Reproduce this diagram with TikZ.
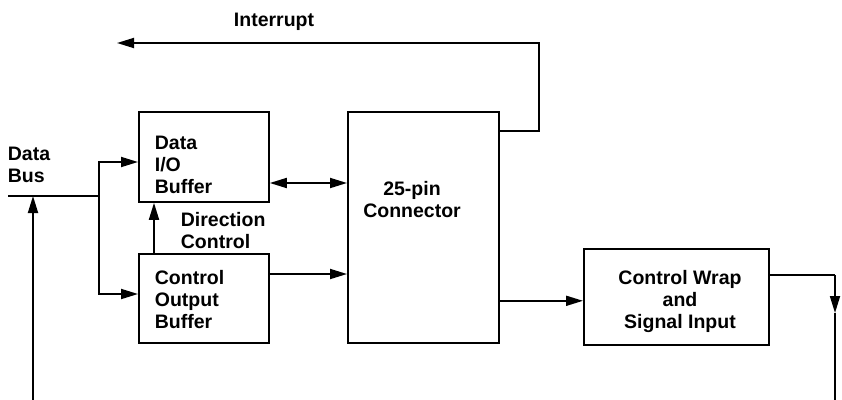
\documentclass[tikz,border=0pt]{standalone}
\usepackage{fontspec}
\setmainfont{Liberation Sans}
\usetikzlibrary{arrows.meta,calc}
\begin{document}
\begin{tikzpicture}[x=1pt,y=-1pt,
  line width=1.8pt,
  box/.style={draw, rectangle, inner sep=0pt, anchor=north west},
  txt/.style={inner sep=0pt, font=\fontsize{19.5}{22}\selectfont\bfseries},
  arr/.style={-{Triangle[length=17pt,width=10pt]}},
  arrboth/.style={{Triangle[length=17pt,width=10pt]}-{Triangle[length=17pt,width=10pt]}}
]
\useasboundingbox (0,0) rectangle (842,399);

% boxes
\node[box, minimum width=130pt, minimum height=90pt] (dio) at (138,111) {};
\node[box, minimum width=130pt, minimum height=89pt] (cob) at (138,253) {};
\node[box, minimum width=151pt, minimum height=231pt] (conn) at (347,111) {};
\node[box, minimum width=185pt, minimum height=96pt] (cwr) at (583,248) {};

% texts
\node[txt, anchor=north west, align=left] (diot) at (154,135) {Data\\I/O\\Buffer};
\node[txt, anchor=north west, align=left] (cobt) at (154,269) {Control\\Output\\Buffer};
\node[txt, anchor=north, align=center] (connt) at (412,180) {25-pin\\Connector};
\node[txt, anchor=north, align=center] (cwrt) at (680,269) {Control Wrap\\and\\Signal Input};
\node[txt, anchor=north west, align=left] (bust) at (7,146) {Data\\Bus};
\node[txt, anchor=north west, align=left] (dirt) at (180,211) {Direction\\Control};
\node[txt, anchor=north] (intt) at (274,12) {Interrupt};

% coordinates
\coordinate (busL) at (8,196);
\coordinate (busJ) at (99,196);
\coordinate (busF) at (33,196);
\coordinate (intTip) at (117,43);
\coordinate (fbK) at (835,275);
\coordinate (fbA) at (835,313);
\coordinate (fbB) at (835,401);
\coordinate (fbC) at (33,401);

% data bus
\draw (busL) -- (busJ);
\draw[arr] (busJ) |- ($(dio.north west)+(0,51)$);
\draw[arr] (busJ) |- ($(cob.north west)+(0,41)$);

% direction control
\draw[arr] ($(cob.north west)+(16,0)$) -- ($(dio.south west)+(16,0)$);

% data i/o <-> connector
\coordinate (dj) at ($(dio.north east)+(0,72)$);
\draw[arrboth] (dj) -- (dj -| conn.west);

% control output -> connector
\coordinate (cj) at ($(cob.north east)+(0,21)$);
\draw[arr] (cj) -- (cj -| conn.west);

% connector -> control wrap
\coordinate (oj) at ($(conn.south east)+(0,-43)$);
\draw[arr] (oj) -- (oj -| cwr.west);

% interrupt
\draw[arr] ($(conn.north east)+(0,20)$) -| (539,43) -- (intTip);

% feedback
\draw (cwr.east |- fbK) -- (fbK);
\draw[arr] (fbK) -- (fbA);
\draw[arr] (fbA) -- (fbB) -- (fbC) -- (busF);
\end{tikzpicture}
\end{document}
